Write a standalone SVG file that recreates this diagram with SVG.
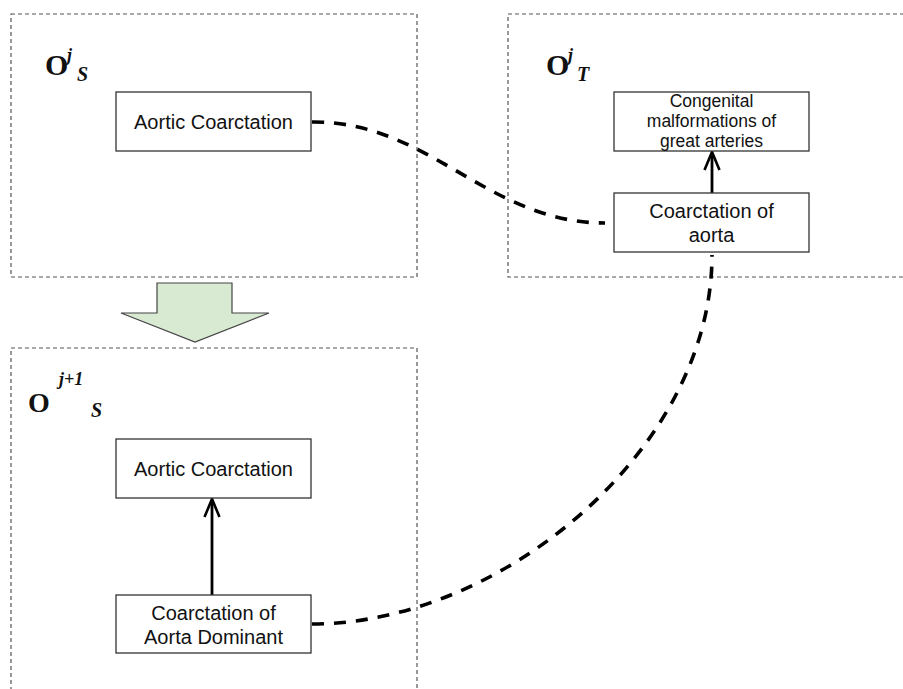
<svg xmlns="http://www.w3.org/2000/svg" width="903" height="689" viewBox="0 0 903 689">
<style>
.grp{fill:none;stroke:#555;stroke-width:1.2;stroke-dasharray:4,3}
.node rect{fill:#fff;stroke:#333;stroke-width:1.3}
.node text{font-family:"Liberation Sans",Arial,sans-serif;fill:#111;text-anchor:middle}
.lbl{font-family:"Liberation Serif","Times New Roman",serif;fill:#111;font-weight:bold}
.sup{font-style:italic}
.dash{fill:none;stroke:#000;stroke-width:3.6;stroke-dasharray:12,10}
.solid{fill:none;stroke:#000;stroke-width:2.8}
.head{fill:none;stroke:#000;stroke-width:2.6;stroke-linejoin:miter}
</style>
<rect width="903" height="689" fill="#fff"/>
<g id="groups">
<rect class="grp" x="11" y="14" width="406" height="263"/>
<rect class="grp" x="508" y="14" width="402" height="263"/>
<rect class="grp" x="11" y="348" width="406" height="350"/>
</g>
<g id="labels">
<text class="lbl" x="45" y="75" font-size="30">O<tspan class="sup" x="67" y="61" font-size="18">j</tspan><tspan class="sup" x="77" y="81" font-size="20">S</tspan></text>
<text class="lbl" x="546" y="75" font-size="30">O<tspan class="sup" x="568" y="61" font-size="18">j</tspan><tspan class="sup" x="577" y="81" font-size="20">T</tspan></text>
<text class="lbl" x="28" y="412" font-size="28">O<tspan class="sup" x="59" y="385" font-size="18">j+1</tspan><tspan class="sup" x="91" y="417" font-size="20">S</tspan></text>
</g>
<g id="transition">
<polygon points="157,283 232,283 232,313 269,313 195,342 121,313 157,313" fill="#d9ead3" stroke="#444" stroke-width="1.2"/>
</g>
<g id="connectors">
<path class="dash" d="M312,122 C430,121 487,223 605,223"/>
<path class="dash" d="M312,624 C500,624 712,450 712,255"/>
<path class="solid" d="M712,193 L712,154"/>
<path class="head" d="M704.5,170 L712,152 L719.5,170"/>
<path class="solid" d="M212,595 L212,501"/>
<path class="head" d="M204.5,517 L212,499 L219.5,517"/>
</g>
<g id="n1" class="node">
<rect x="116" y="92" width="195" height="59"/>
<text x="213.5" y="129" font-size="20">Aortic Coarctation</text>
</g>
<g id="n2" class="node">
<rect x="614" y="92" width="195" height="59"/>
<text font-size="17.5"><tspan x="711.5" y="107">Congenital</tspan><tspan x="711.5" y="127">malformations of</tspan><tspan x="711.5" y="147">great arteries</tspan></text>
</g>
<g id="n3" class="node">
<rect x="614" y="193" width="195" height="59"/>
<text font-size="20"><tspan x="711.5" y="218">Coarctation of</tspan><tspan x="711.5" y="242">aorta</tspan></text>
</g>
<g id="n4" class="node">
<rect x="116" y="439" width="195" height="59"/>
<text x="213.5" y="476" font-size="20">Aortic Coarctation</text>
</g>
<g id="n5" class="node">
<rect x="116" y="595" width="195" height="58"/>
<text font-size="20"><tspan x="213.5" y="620">Coarctation of</tspan><tspan x="213.5" y="644">Aorta Dominant</tspan></text>
</g>
</svg>
